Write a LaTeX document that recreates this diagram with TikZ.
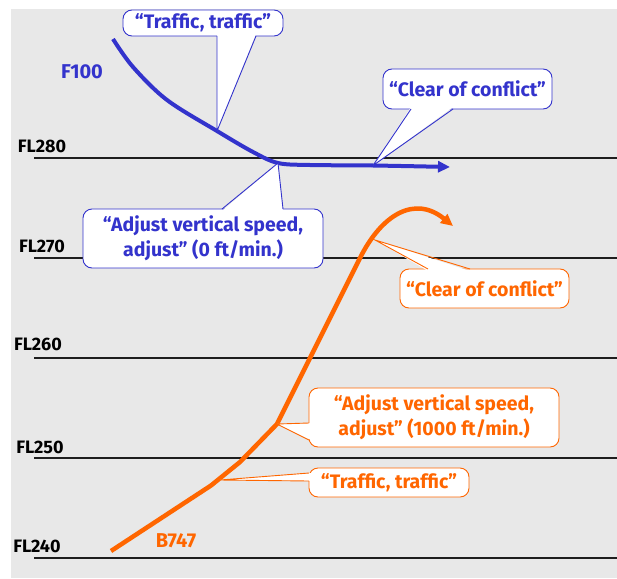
\documentclass[tikz,border=0pt]{standalone}
\usepackage{fontspec}
\setmainfont{Fira Sans}
\usetikzlibrary{arrows.meta}
\definecolor{bggray}{RGB}{232,232,232}
\definecolor{cblue}{RGB}{51,51,204}
\definecolor{corange}{RGB}{255,102,0}
\definecolor{lvl}{RGB}{30,30,30}
\tikzset{
  levelline/.style={draw=lvl, line width=1.2pt},
  fltext/.style={font=\bfseries\fontsize{18}{20}\selectfont, text=black, inner sep=0},
  actext/.style={font=\bfseries\fontsize{20}{22}\selectfont, inner sep=0},
  boxblue/.style={draw=cblue, fill=white, line width=0.9pt, rounded corners=9pt, text=cblue, align=center,
    font=\bfseries\fontsize{19.5}{25}\selectfont, inner sep=0},
  boxorange/.style={draw=corange, fill=white, line width=0.9pt, rounded corners=9pt, text=corange, align=center,
    font=\bfseries\fontsize{19.5}{25}\selectfont, inner sep=0},
  ptrfill/.style={fill=white},
  ptrblue/.style={draw=cblue, line width=0.9pt, line join=miter},
  ptrorange/.style={draw=corange, line width=0.9pt, line join=miter},
  pathblue/.style={draw=cblue, line width=4pt, -{Triangle[length=12pt,width=11pt]}},
  pathorange/.style={draw=corange, line width=4.5pt, -{Triangle[length=12pt,width=11pt]}}
}
\begin{document}
\begin{tikzpicture}[x=1pt,y=-1pt]
\useasboundingbox (0,0) rectangle (617,578);
\fill[bggray] (11,9) rectangle (617,578);
% flight levels
\foreach \yy in {158,258,358,458,558} {\draw[levelline] (34,\yy) -- (617,\yy);}
\node[fltext] (fl280) at (42,146) {FL280};
\node[fltext] (fl270) at (42,246) {FL270};
\node[fltext] (fl260) at (38,344) {FL260};
\node[fltext] (fl250) at (40,447) {FL250};
\node[fltext] (fl240) at (37,546) {FL240};
\node[actext, text=cblue] (f100) at (82,72) {F100};
\node[actext, text=corange] (b747) at (176,541) {B747};
% key points on the paths
\coordinate (bT) at (217,131);
\coordinate (bA) at (278,163);
\coordinate (bC) at (373,165.5);
\coordinate (oT) at (220,480);
\coordinate (oA) at (277,424);
\coordinate (oC) at (375,240);
% F100 path
\draw[pathblue] plot[smooth, tension=0.55] coordinates {(113,39) (133,67) (167,100) (bT) (253,152) (bA) (310,165) (bC) (450,167)};
% B747 path
\draw[pathorange, line join=round] (111,551) -- (211,485.5) -- (240,462) -- (oA) -- (360,258)
   .. controls (382,214) and (415,195) .. (453,226);
% blue callouts
\node[boxblue, minimum width=160pt, minimum height=26pt] (bt) at (203,23) {“Traffic, traffic”};
\fill[ptrfill] (217,34) -- (bT) -- (256,34) -- cycle;
\draw[ptrblue] (217,36) -- (bT) -- (256,36);
\node[boxblue, minimum width=169pt, minimum height=40pt] (bc) at (467.5,89) {“Clear of conflict”};
\fill[ptrfill] (411,107) -- (bC) -- (453,107) -- cycle;
\draw[ptrblue] (411,109) -- (bC) -- (453,109);
\node[boxblue, minimum width=240pt, minimum height=59pt] (ba) at (203,238.5) {“Adjust vertical speed,\\ adjust” (0 ft/min.)};
\fill[ptrfill] (222,211) -- (bA) -- (283,211) -- cycle;
\draw[ptrblue] (222,209) -- (bA) -- (283,209);
% orange callouts
\node[boxorange, minimum width=169pt, minimum height=39pt] (oc) at (484.5,288.5) {“Clear of conflict”};
\fill[ptrfill] (428,271) -- (oC) -- (470,271) -- cycle;
\draw[ptrorange] (428,269) -- (oC) -- (470,269);
\node[boxorange, minimum width=250pt, minimum height=59pt] (oa) at (434,417.5) {“Adjust vertical speed,\\ adjust” (1000 ft/min.)};
\fill[ptrfill] (311,423) -- (oA) -- (311,440) -- cycle;
\draw[ptrorange] (309,423) -- (oA) -- (309,440);
\node[boxorange, minimum width=160pt, minimum height=29pt] (ot) at (389,482.5) {“Traffic, traffic”};
\fill[ptrfill] (311,473) -- (oT) -- (311,481) -- cycle;
\draw[ptrorange] (309,473) -- (oT) -- (309,481);
\end{tikzpicture}
\end{document}
